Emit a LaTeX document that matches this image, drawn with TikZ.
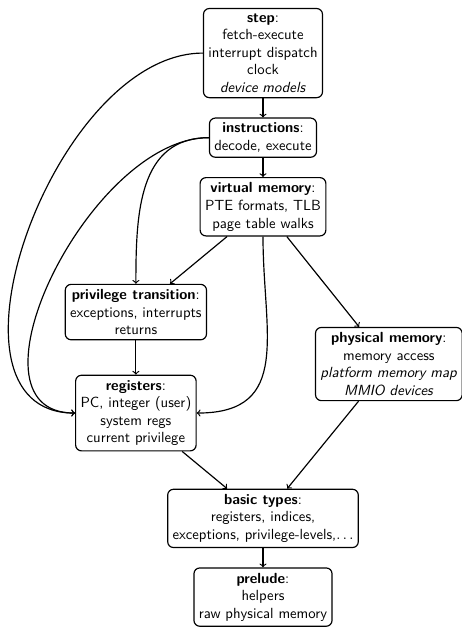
\documentclass[tikz,border=0pt]{standalone}
\usetikzlibrary{positioning}
\tikzset{
    ->, % dependency arrows
    >=to,
    node distance=0.46cm, % gap between stacked modules
    module/.style={draw, rounded corners, align=center, font=\sffamily}, % one box per module
}

\begin{document}
\begin{tikzpicture}[thick]
    \useasboundingbox (0,0) rectangle (11.03,-15.02);
    \node[module] (step) at (6.29,-1.27) {\textbf{step}:\\fetch-execute\\interrupt dispatch\\clock\\\textit{device models}};
    \node[module, below=of step] (instr) {\textbf{instructions}:\\decode, execute};
    \node[module, below=of instr] (vmem) {\textbf{virtual memory}:\\PTE formats, TLB\\page table walks};
    \node[module, below=1.13cm of vmem, xshift=-3.04cm] (priv) {\textbf{privilege transition}:\\exceptions, interrupts\\returns};
    \node[module, below=2.16cm of vmem, xshift=3.01cm] (pmem) {\textbf{physical memory}:\\memory access\\\textit{platform memory map}\\\textit{MMIO devices}};
    \node[module, below=0.82cm of priv] (regs) {\textbf{registers}:\\PC, integer (user)\\system regs\\current privilege};
    \node[module, below=0.89cm of regs, xshift=3.04cm] (types) {\textbf{basic types}:\\registers, indices,\\exceptions, privilege-levels,$\ldots$};
    \node[module, below=of types] (prelude) {\textbf{prelude}:\\helpers\\raw physical memory};
    \path (step) edge (instr)
        (step.west) edge[out=180, in=180] (regs.west)
        (instr) edge (vmem)
        (instr.west) edge[out=180, in=180] (regs.west)
        (instr.west) edge[out=180, in=90, looseness=1.1] (priv.north)
        (vmem) edge (priv)
        (vmem) edge (pmem)
        (vmem.south) edge[out=-90, in=0, looseness=1.3] (regs.east)
        (priv) edge (regs)
        (regs) edge (types)
        (pmem) edge (types)
        (types) edge (prelude);
\end{tikzpicture}
\end{document}
